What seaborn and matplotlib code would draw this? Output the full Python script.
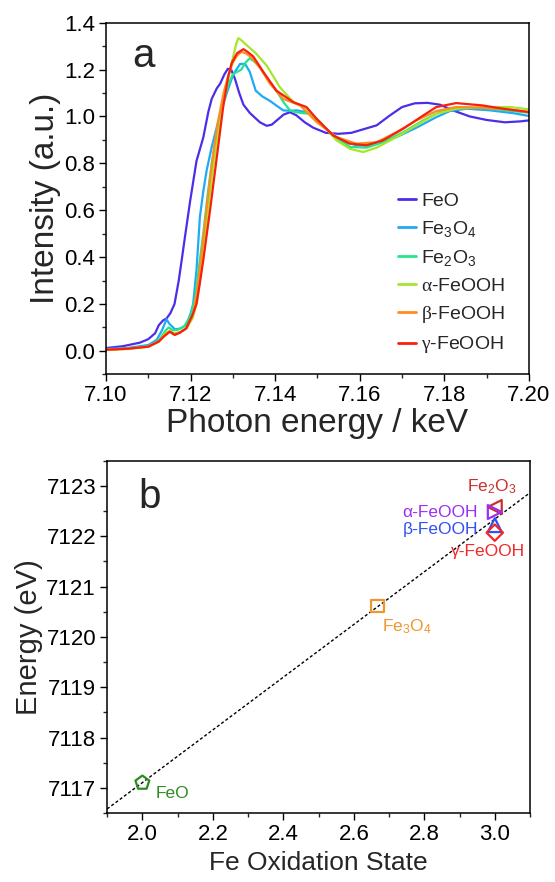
import numpy as np
import pandas as pd
import matplotlib
matplotlib.use("Agg")
import matplotlib.pyplot as plt
import seaborn as sns
from matplotlib.ticker import MultipleLocator

# ---------------- data: panel a (XANES spectra) ----------------
feo_E = [7.100, 7.104, 7.108, 7.110, 7.1116, 7.1125, 7.1135, 7.1143, 7.1152, 7.1162, 7.1172, 7.1180,
         7.1187, 7.1199, 7.1214, 7.1230, 7.1242, 7.1250, 7.1262, 7.1270, 7.1280, 7.1288, 7.1296, 7.1305,
         7.1315, 7.1325, 7.1340, 7.1364, 7.1380, 7.1392, 7.1405, 7.1420, 7.1435, 7.1450, 7.1470, 7.1490,
         7.1520, 7.1550, 7.1580, 7.1608, 7.1640, 7.1671, 7.1700, 7.1730, 7.1760, 7.1790, 7.1820, 7.1860,
         7.1900, 7.1943, 7.1980, 7.2000]
feo_I = [0.012, 0.020, 0.035, 0.050, 0.075, 0.110, 0.130, 0.138, 0.160, 0.200, 0.300, 0.400,
         0.490, 0.640, 0.810, 0.910, 1.020, 1.075, 1.120, 1.140, 1.180, 1.203, 1.200, 1.160,
         1.100, 1.050, 1.015, 0.975, 0.960, 0.965, 0.985, 1.008, 1.018, 1.005, 0.975, 0.952,
         0.930, 0.926, 0.930, 0.945, 0.962, 1.004, 1.040, 1.056, 1.058, 1.050, 1.026, 1.000,
         0.985, 0.975, 0.979, 0.983]

fe3o4_E = [7.100, 7.105, 7.110, 7.1120, 7.1133, 7.1143, 7.1150, 7.1163, 7.1175, 7.1190, 7.1200, 7.1206,
           7.1214, 7.1222, 7.1230, 7.1238, 7.1250, 7.1262, 7.1275, 7.1285, 7.1301, 7.1317, 7.1329, 7.1340,
           7.1354, 7.1370, 7.1388, 7.1404, 7.1419, 7.1435, 7.1451, 7.1474, 7.1490, 7.1506, 7.1525, 7.1545,
           7.1570, 7.1592, 7.1615, 7.1640, 7.1687, 7.1734, 7.1781, 7.1813, 7.1853, 7.1908, 7.1963, 7.2000]
fe3o4_I = [0.008, 0.012, 0.025, 0.047, 0.090, 0.135, 0.115, 0.092, 0.095, 0.110, 0.160, 0.200,
           0.345, 0.571, 0.680, 0.770, 0.870, 0.955, 1.040, 1.097, 1.180, 1.224, 1.224, 1.190,
           1.110, 1.085, 1.066, 1.045, 1.026, 1.024, 1.026, 1.018, 1.000, 0.970, 0.940, 0.912,
           0.890, 0.877, 0.876, 0.884, 0.912, 0.952, 0.997, 1.023, 1.033, 1.026, 1.014, 1.002]

fe2o3_E = [7.100, 7.105, 7.110, 7.1125, 7.1140, 7.1148, 7.1158, 7.1170, 7.1185, 7.1200, 7.1210, 7.1220,
           7.1230, 7.1240, 7.1250, 7.1262, 7.1275, 7.1290, 7.1300, 7.1310, 7.1320, 7.1330, 7.1340, 7.1350,
           7.1364, 7.1380, 7.1403, 7.1420, 7.1435, 7.1450, 7.1466, 7.1480, 7.1498, 7.1536, 7.1577, 7.1616,
           7.1655, 7.1703, 7.1750, 7.1797, 7.1845, 7.1908, 7.1950, 7.2000]
fe2o3_I = [0.006, 0.010, 0.020, 0.045, 0.085, 0.100, 0.088, 0.090, 0.105, 0.150, 0.220, 0.360,
           0.500, 0.660, 0.800, 0.930, 1.050, 1.140, 1.180, 1.190, 1.200, 1.230, 1.248, 1.235,
           1.210, 1.165, 1.110, 1.060, 1.026, 1.018, 1.014, 1.012, 0.990, 0.919, 0.870, 0.867,
           0.890, 0.933, 0.983, 1.026, 1.040, 1.033, 1.025, 1.016]

afeooh_E = [7.100, 7.105, 7.110, 7.1125, 7.1140, 7.1150, 7.1160, 7.1175, 7.1190, 7.1205, 7.1215, 7.1225,
            7.1235, 7.1245, 7.1255, 7.1265, 7.1278, 7.1290, 7.1300, 7.1308, 7.1313, 7.1320, 7.1332, 7.1354,
            7.1380, 7.1411, 7.1443, 7.1474, 7.1506, 7.1545, 7.1577, 7.1608, 7.1640, 7.1687, 7.1734, 7.1781,
            7.1828, 7.1890, 7.1955, 7.2000]
afeooh_I = [0.004, 0.008, 0.018, 0.040, 0.075, 0.085, 0.075, 0.080, 0.095, 0.140, 0.210, 0.340,
            0.500, 0.660, 0.800, 0.930, 1.060, 1.170, 1.250, 1.310, 1.334, 1.325, 1.305, 1.270,
            1.217, 1.125, 1.061, 1.033, 0.976, 0.898, 0.862, 0.848, 0.867, 0.912, 0.962, 1.011,
            1.033, 1.040, 1.040, 1.030]

bfeooh_E = [7.100, 7.105, 7.110, 7.1125, 7.1140, 7.1150, 7.1160, 7.1175, 7.1190, 7.1205, 7.1215, 7.1225,
            7.1235, 7.1245, 7.1255, 7.1265, 7.1278, 7.1290, 7.1300, 7.1310, 7.1320, 7.1330, 7.1345, 7.1365,
            7.1388, 7.1419, 7.1459, 7.1498, 7.1545, 7.1592, 7.1640, 7.1687, 7.1734, 7.1781, 7.1828, 7.1890,
            7.1950, 7.2000]
bfeooh_I = [0.005, 0.009, 0.018, 0.040, 0.070, 0.082, 0.070, 0.078, 0.095, 0.150, 0.250, 0.400,
            0.560, 0.720, 0.860, 0.980, 1.100, 1.180, 1.230, 1.260, 1.275, 1.270, 1.250, 1.205,
            1.139, 1.075, 1.047, 0.976, 0.912, 0.884, 0.890, 0.933, 0.983, 1.023, 1.040, 1.037,
            1.030, 1.018]

gfeooh_E = [7.100, 7.105, 7.110, 7.1125, 7.1136, 7.1151, 7.1163, 7.1175, 7.1190, 7.1206, 7.1214, 7.1222,
            7.1230, 7.1246, 7.1262, 7.1277, 7.1289, 7.1297, 7.1310, 7.1325, 7.1335, 7.1348, 7.1372, 7.1403,
            7.1443, 7.1474, 7.1498, 7.1537, 7.1576, 7.1616, 7.1655, 7.1703, 7.1750, 7.1781, 7.1828, 7.1890,
            7.1939, 7.2000]
gfeooh_I = [0.005, 0.009, 0.018, 0.040, 0.060, 0.082, 0.068, 0.078, 0.097, 0.160, 0.200, 0.290,
            0.387, 0.600, 0.826, 1.040, 1.170, 1.227, 1.270, 1.287, 1.275, 1.256, 1.190, 1.110,
            1.061, 1.040, 0.990, 0.919, 0.884, 0.877, 0.898, 0.948, 1.004, 1.040, 1.057, 1.047,
            1.033, 1.019]

spectra_names = ["FeO", "Fe$_3$O$_4$", "Fe$_2$O$_3$",
                 r"$\mathsf{\alpha}$-FeOOH", r"$\mathsf{\beta}$-FeOOH", r"$\mathsf{\gamma}$-FeOOH"]
spectra_E = [feo_E, fe3o4_E, fe2o3_E, afeooh_E, bfeooh_E, gfeooh_E]
spectra_I = [feo_I, fe3o4_I, fe2o3_I, afeooh_I, bfeooh_I, gfeooh_I]
spectra_colors = ["#4B2EEA", "#1FAAF5", "#22E68C", "#A6E62A", "#FF8C1E", "#F81E10"]

# ---------------- data: panel b (edge energy vs oxidation state) ----------------
ref_names = ["FeO", "Fe$_3$O$_4$", "Fe$_2$O$_3$", "α-FeOOH", "β-FeOOH", "γ-FeOOH"]
ox_state = [2.0, 2.667, 3.0, 3.0, 3.0, 3.0]
edge_energy = [7117.10, 7120.61, 7122.58, 7122.48, 7122.22, 7122.07]
ref_markers = ["p", "s", "<", ">", "^", "D"]
ref_colors = ["#2E8B22", "#F0962E", "#C8302E", "#9B30F0", "#3050F0", "#F02828"]
ref_sizes = [110, 80, 100, 100, 100, 70]
label_x = [2.084, 2.751, 2.991, 2.953, 2.953, 2.980]
label_y = [7116.88, 7120.21, 7122.98, 7122.48, 7122.13, 7121.69]
label_ha = ["center", "center", "center", "right", "right", "center"]

# ---------------- style ----------------
sns.set_theme(style="ticks")
plt.rcParams["font.family"] = ["Liberation Sans", "DejaVu Sans"]
plt.rcParams["mathtext.fontset"] = "custom"
plt.rcParams["mathtext.rm"] = "Liberation Sans"
plt.rcParams["mathtext.it"] = "Liberation Sans:italic"
plt.rcParams["mathtext.sf"] = "Liberation Serif"
plt.rcParams["axes.edgecolor"] = "black"
plt.rcParams["axes.linewidth"] = 1.1

fig = plt.figure(figsize=(5.55, 8.82), dpi=100)
ax1 = fig.add_axes([0.191, 0.5756, 0.762, 0.3987])
ax2 = fig.add_axes([0.193, 0.0782, 0.762, 0.3995])

# panel a
rows = []
for n, E, I in zip(spectra_names, spectra_E, spectra_I):
    for e, i in zip(E, I):
        rows.append((n, e, i))
df = pd.DataFrame(rows, columns=["sample", "E", "I"])
sns.lineplot(data=df, x="E", y="I", hue="sample", hue_order=spectra_names,
             palette=spectra_colors, estimator=None, sort=True, lw=1.6, ax=ax1)
ax1.set_xlim(7.10, 7.20)
ax1.set_ylim(-0.1, 1.4)
ax1.xaxis.set_major_locator(MultipleLocator(0.02))
ax1.xaxis.set_minor_locator(MultipleLocator(0.01))
ax1.yaxis.set_major_locator(MultipleLocator(0.2))
ax1.yaxis.set_minor_locator(MultipleLocator(0.1))
ax1.set_xticklabels([f"{v:.2f}" for v in ax1.get_xticks()])
ax1.set_yticks([0.0, 0.2, 0.4, 0.6, 0.8, 1.0, 1.2, 1.4])
ax1.set_yticklabels([f"{v:.1f}" for v in ax1.get_yticks()])
ax1.set_xlabel("Photon energy / keV", fontsize=24, labelpad=1)
ax1.set_ylabel("Intensity (a.u.)", fontsize=24, labelpad=2)
ax1.text(0.062, 0.905, "a", transform=ax1.transAxes, fontsize=29, ha="left", va="center")
leg = ax1.legend(loc="upper left", bbox_to_anchor=(0.667, 0.545), frameon=False, fontsize=14,
                 handlelength=0.95, handletextpad=0.25, labelspacing=0.47, borderpad=0)
for h in leg.get_lines():
    h.set_linewidth(2.0)

# panel b
for i in range(len(ox_state)):
    sns.scatterplot(x=[ox_state[i]], y=[edge_energy[i]], marker=ref_markers[i], s=ref_sizes[i],
                    color=ref_colors[i], facecolor="none", edgecolor=ref_colors[i],
                    linewidth=1.6, ax=ax2, zorder=3)
    ax2.text(label_x[i], label_y[i], ref_names[i], color=ref_colors[i], fontsize=12.5,
             ha=label_ha[i], va="center")
coef = np.polyfit(ox_state, edge_energy, 1)
xl = np.array([1.9, 3.1])
ax2.plot(xl, np.polyval(coef, xl), color="black", lw=1.0, ls=(0, (2.2, 1.6)), zorder=2)
ax2.set_xlim(1.9, 3.1)
ax2.set_ylim(7116.5, 7123.5)
ax2.xaxis.set_major_locator(MultipleLocator(0.2))
ax2.xaxis.set_minor_locator(MultipleLocator(0.1))
ax2.yaxis.set_major_locator(MultipleLocator(1))
ax2.yaxis.set_minor_locator(MultipleLocator(0.5))
ax2.set_xticks([2.0, 2.2, 2.4, 2.6, 2.8, 3.0])
ax2.set_xticklabels([f"{v:.1f}" for v in ax2.get_xticks()])
ax2.set_yticks([7117, 7118, 7119, 7120, 7121, 7122, 7123])
ax2.set_yticklabels([f"{int(v)}" for v in ax2.get_yticks()])
ax2.set_xlabel("Fe Oxidation State", fontsize=19)
ax2.set_ylabel("Energy (eV)", fontsize=21, labelpad=2)
ax2.text(0.075, 0.897, "b", transform=ax2.transAxes, fontsize=29, ha="left", va="center")

for ax in (ax1, ax2):
    for s in ax.spines.values():
        s.set_visible(True)
        s.set_color("black")
        s.set_linewidth(1.1)
    ax.tick_params(which="major", direction="out", length=5, width=1.0, labelsize=16,
                   colors="black", pad=3)
    ax.tick_params(which="minor", direction="out", length=3, width=1.0)
    ax.tick_params(top=False, right=False, which="both")

fig.savefig("out.png", dpi=100)
